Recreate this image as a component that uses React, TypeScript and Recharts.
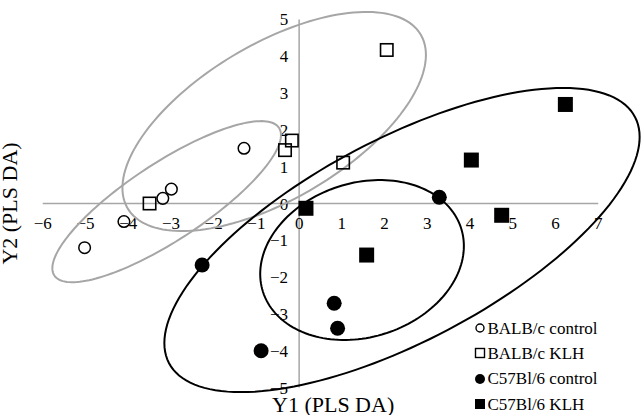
import React from 'react';
import { ScatterChart, Scatter, XAxis, YAxis, ReferenceLine } from 'recharts';

// ---- data ----
const balbControl = [
  { x: -5.02, y: -1.2 },
  { x: -4.1, y: -0.49 },
  { x: -3.19, y: 0.14 },
  { x: -2.99, y: 0.39 },
  { x: -1.29, y: 1.5 },
];
const balbKlh = [
  { x: -3.5, y: 0.0 },
  { x: -0.33, y: 1.45 },
  { x: -0.17, y: 1.71 },
  { x: 1.03, y: 1.11 },
  { x: 2.05, y: 4.17 },
];
const c57Control = [
  { x: -2.27, y: -1.67 },
  { x: -0.89, y: -4.0 },
  { x: 0.82, y: -2.71 },
  { x: 0.9, y: -3.39 },
  { x: 3.28, y: 0.17 },
];
const c57Klh = [
  { x: 0.16, y: -0.13 },
  { x: 1.58, y: -1.4 },
  { x: 4.03, y: 1.18 },
  { x: 4.74, y: -0.32 },
  { x: 6.23, y: 2.69 },
];

// group ellipses: centre, two conjugate semi-diameters (data units)
const ellipseCentres = [
  { cx: -3.1, cy: 0.05 },
  { cx: -0.584, cy: 2.228 },
  { cx: 1.472, cy: -1.535 },
  { cx: 2.407, cy: -0.992 },
];
const ellipseU = [
  { ux: 2.675, uy: 1.807 },
  { ux: 3.551, uy: 1.807 },
  { ux: 2.383, uy: 0.38 },
  { ux: 5.561, uy: 2.799 },
];
const ellipseV = [
  { vx: 0, vy: 1.234 },
  { vx: 0, vy: 2.364 },
  { vx: 0, vy: 2.139 },
  { vx: 0, vy: 3.038 },
];
const ellipseColors = ['#a6a6a6', '#a6a6a6', '#000000', '#000000'];

const xTicks = [-6, -5, -4, -3, -2, -1, 0, 1, 2, 3, 4, 5, 6, 7];
const yTicks = [-5, -4, -3, -2, -1, 0, 1, 2, 3, 4, 5];

const legendLabels = ['BALB/c control', 'BALB/c KLH', 'C57Bl/6 control', 'C57Bl/6 KLH'];

// ---- helpers ----
const fmt = (v: number) => (v < 0 ? '\u2212' + Math.abs(v) : String(v));

const outline = (i: number) => {
  const c = ellipseCentres[i];
  const u = ellipseU[i];
  const v = ellipseV[i];
  const pts: { x: number; y: number }[] = [];
  const n = 160;
  for (let k = 0; k <= n; k++) {
    const t = (2 * Math.PI * k) / n;
    pts.push({
      x: c.cx + u.ux * Math.cos(t) + v.vx * Math.sin(t),
      y: c.cy + u.uy * Math.cos(t) + v.vy * Math.sin(t),
    });
  }
  return pts;
};

const xTickData = xTicks.map((v) => ({ x: v, y: 0, label: fmt(v) }));
const yTickData = yTicks.map((v) => ({ x: 0, y: v, label: fmt(v) }));

const FONT = "'Liberation Serif', 'Times New Roman', serif";

const Empty = () => <g />;

const OpenCircle = (p: any) => (
  <circle cx={p.cx} cy={p.cy} r={5.8} fill="none" stroke="#000" strokeWidth={1.5} />
);
const OpenSquare = (p: any) => (
  <rect x={p.cx - 6.2} y={p.cy - 6.2} width={12.4} height={12.4} fill="none" stroke="#000" strokeWidth={1.6} />
);
const FilledCircle = (p: any) => <circle cx={p.cx} cy={p.cy} r={7.5} fill="#000" />;
const FilledSquare = (p: any) => (
  <rect x={p.cx - 7.5} y={p.cy - 7.5} width={15} height={15} fill="#000" />
);

const XTickLabel = (p: any) => (
  <text x={p.cx} y={p.cy + 25.5} textAnchor="middle" fontFamily={FONT} fontSize={17} fill="#000">
    {p.payload.label}
  </text>
);
const YTickLabel = (p: any) => (
  <text x={p.cx - 11} y={p.cy + 6} textAnchor="end" fontFamily={FONT} fontSize={17} fill="#000">
    {p.payload.label}
  </text>
);

export default function App() {
  return (
    <div style={{ position: 'absolute', left: 0, top: 0, width: 642, height: 415, background: '#fff' }}>
      <ScatterChart width={642} height={415} margin={{ top: 1, right: 1, bottom: 9, left: 0 }}>
        <XAxis type="number" dataKey="x" domain={[-7, 8]} hide allowDataOverflow />
        <YAxis type="number" dataKey="y" domain={[-5.5, 5.5]} hide allowDataOverflow />
        <ReferenceLine segment={[{ x: -6, y: 0 }, { x: 7, y: 0 }]} stroke="#a6a6a6" strokeWidth={1.5} ifOverflow="visible" />
        <ReferenceLine segment={[{ x: 0, y: -5 }, { x: 0, y: 5 }]} stroke="#a6a6a6" strokeWidth={1.5} ifOverflow="visible" />
        <Scatter data={xTickData} shape={XTickLabel} isAnimationActive={false} />
        <Scatter data={yTickData} shape={YTickLabel} isAnimationActive={false} />
        {ellipseCentres.map((_, i) => (
          <Scatter
            key={'e' + i}
            data={outline(i)}
            line={{ stroke: ellipseColors[i], strokeWidth: 2 }}
            lineType="joint"
            shape={Empty}
            isAnimationActive={false}
          />
        ))}
        <Scatter data={balbControl} shape={OpenCircle} isAnimationActive={false} />
        <Scatter data={balbKlh} shape={OpenSquare} isAnimationActive={false} />
        <Scatter data={c57Control} shape={FilledCircle} isAnimationActive={false} />
        <Scatter data={c57Klh} shape={FilledSquare} isAnimationActive={false} />
      </ScatterChart>
      <svg width={642} height={415} style={{ position: 'absolute', left: 0, top: 0, pointerEvents: 'none' }}>
        <text x={272} y={412} fontFamily={FONT} fontSize={22} fill="#000">Y1 (PLS DA)</text>
        <text
          x={0}
          y={0}
          transform="translate(17,203.5) rotate(-90)"
          textAnchor="middle"
          fontFamily={FONT}
          fontSize={22}
          fill="#000"
        >
          Y2 (PLS DA)
        </text>
        <circle cx={480} cy={328} r={4} fill="none" stroke="#000" strokeWidth={1.4} />
        <rect x={475.5} y={348.5} width={9} height={9} fill="none" stroke="#000" strokeWidth={1.4} />
        <circle cx={480} cy={379} r={5} fill="#000" />
        <rect x={475} y={399} width={10} height={10} fill="#000" />
        {legendLabels.map((l, i) => (
          <text key={l} x={487.5} y={[333.5, 358.5, 384, 409.5][i]} fontFamily={FONT} fontSize={17} fill="#000">
            {l}
          </text>
        ))}
      </svg>
    </div>
  );
}
